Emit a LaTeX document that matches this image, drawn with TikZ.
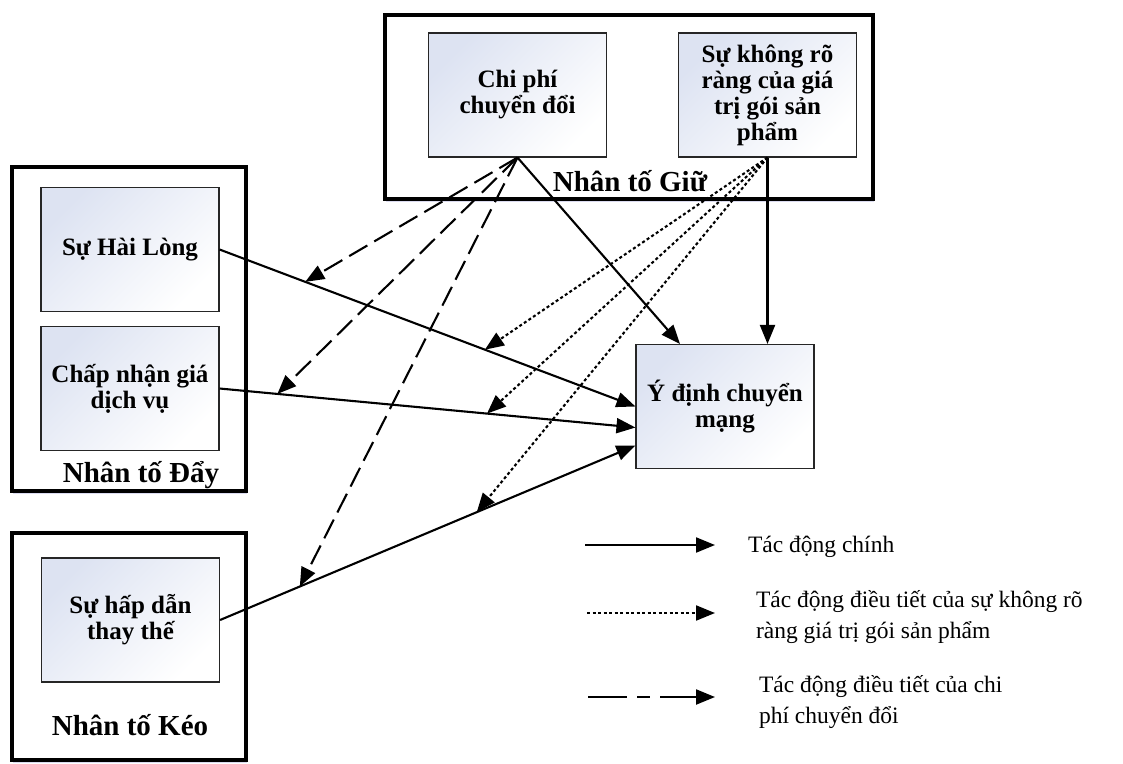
\documentclass[tikz,border=0pt]{standalone}
\usepackage{fontspec}
\setmainfont{Liberation Serif}
\usetikzlibrary{arrows.meta, shadows}

\definecolor{shadeblue}{RGB}{221,227,242}

\tikzset{
	group/.style={draw, line width=4pt, fill=white, drop shadow={shadow xshift=1pt, shadow yshift=-3pt, fill=blue!40!gray, opacity=0.2}},
	factor/.style={draw=black!85, line width=1.1pt, top color=shadeblue, bottom color=white, shading angle=45, minimum width=178pt, minimum height=124pt, align=center, inner sep=2pt, font=\fontsize{25}{26}\selectfont\bfseries},
	grouplabel/.style={anchor=base, inner sep=0pt, font=\fontsize{29}{34}\selectfont\bfseries},
	legend/.style={align=left, anchor=north west, inner sep=0pt, font=\fontsize{23.5}{31}\selectfont},
	moderate/.style={dash pattern=on 21pt off 8pt},
	uncertain/.style={dash pattern=on 3pt off 2.5pt},
}

\begin{document}
\begin{tikzpicture}[x=1pt, y=-1pt, ->, >={Triangle[length=19pt, width=15pt]}, line width=2.1pt]
	\useasboundingbox (0,0) rectangle (1123,763);

	\node[group, minimum width=488pt, minimum height=184pt] (giu) at (629, 107) {};
	\node[group, minimum width=234pt, minimum height=324pt] (day) at (129, 329) {};
	\node[group, minimum width=234pt, minimum height=227pt] (keo) at (129, 646.5) {};

	\node[factor] (cp) at (517.5, 95) {Chi phí\\chuyển đổi};
	\node[factor] (kr) at (767.5, 95) {Sự không rõ\\ràng của giá\\trị gói sản\\phẩm};
	\node[factor] (hl) at (130, 249.5) {Sự Hài Lòng};
	\node[factor] (cn) at (130, 388.5) {Chấp nhận giá\\dịch vụ};
	\node[factor] (hd) at (130.5, 620) {Sự hấp dẫn\\thay thế};
	\node[factor] (yd) at (725, 406.5) {Ý định chuyển\\mạng};

	\node[grouplabel] (giul) at (630, 191) {Nhân tố Giữ};
	\node[grouplabel] (dayl) at (141, 482) {Nhân tố Đẩy};
	\node[grouplabel] (keol) at (130, 735) {Nhân tố Kéo};

	\draw (hl.east) -- (yd.west) coordinate[pos=0.206] (m1) coordinate[pos=0.638] (u1);
	\draw (cn.east) -- ([yshift=-21pt]yd.west) coordinate[pos=0.139] (m2) coordinate[pos=0.643] (u2);
	\draw (hd.east) -- ([yshift=-39pt]yd.west) coordinate[pos=0.192] (m3) coordinate[pos=0.618] (u3);
	\draw (cp.south) -- ([xshift=-45pt]yd.north);
	\draw (kr.south) -- (kr.south |- yd.north);

	\draw[moderate] (cp.south) -- (m1);
	\draw[moderate] (cp.south) -- (m2);
	\draw[moderate] (cp.south) -- (m3);
	\draw[uncertain] (kr.south) -- (u1);
	\draw[uncertain] (kr.south) -- (u2);
	\draw[uncertain] (kr.south) -- (u3);

	\coordinate (s1) at (585, 545);
	\coordinate (e1) at (715, 545);
	\coordinate (s2) at (587, 613);
	\coordinate (e2) at (715, 613);
	\coordinate (s3) at (588, 697);
	\coordinate (e3) at (715, 697);
	\draw (s1) -- (e1);
	\draw[uncertain] (s2) -- (e2);
	\draw[dash pattern=on 39pt off 10pt on 13pt off 10pt] (s3) -- (e3);
	\node[legend, anchor=base west] (t1) at (747, 552) {Tác động chính};
	\node[legend] (t2) at (755, 585) {\strut Tác động điều tiết của sự không rõ\\ràng giá trị gói sản phẩm};
	\node[legend] (t3) at (758, 670) {\strut Tác động điều tiết của chi\\phí chuyển đổi};
\end{tikzpicture}
\end{document}
